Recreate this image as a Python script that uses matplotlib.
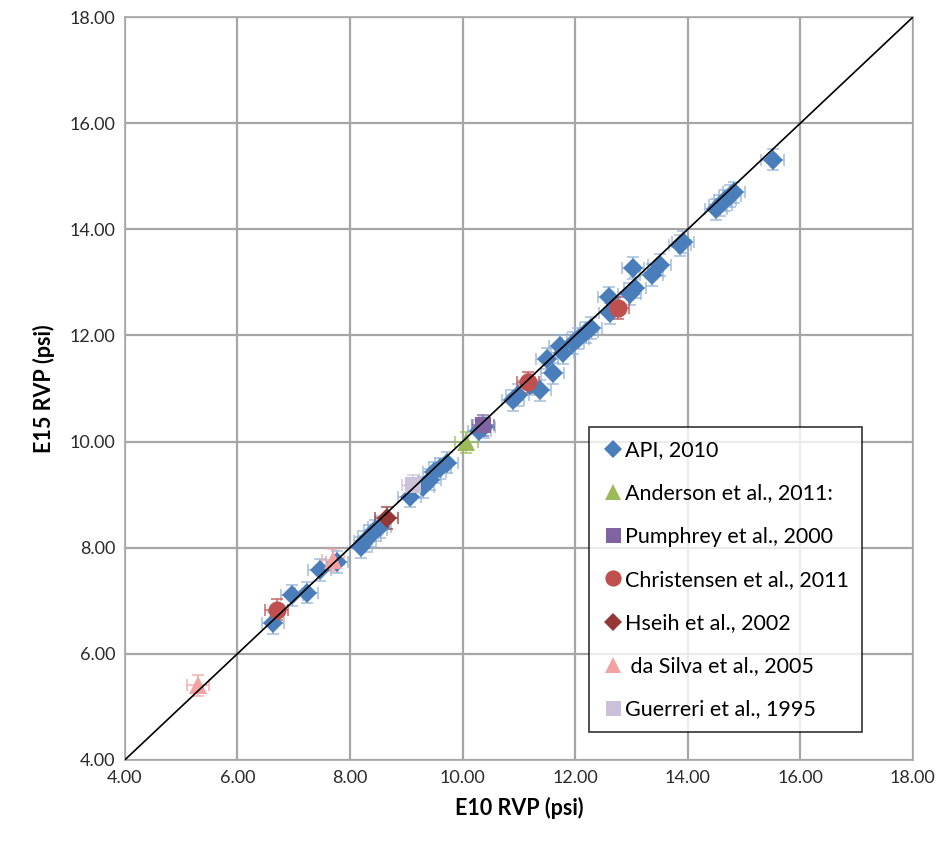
import matplotlib
matplotlib.use("Agg")
import matplotlib.pyplot as plt
from matplotlib.lines import Line2D
import numpy as np

plt.rcParams['font.family'] = ['Lato', 'DejaVu Sans']

# ---- data ----
api_x = [15.51, 14.5, 14.58, 14.66, 14.75, 14.82, 13.86, 13.92, 13.5, 13.36,
         13.03, 13.06, 12.97, 12.6, 12.62, 12.2, 12.28, 11.96, 12.05, 11.78,
         11.73, 11.6, 11.5, 11.37, 11.2, 10.9, 10.98, 10.3, 10.38, 9.72, 9.6,
         9.5, 9.42, 9.3, 9.06, 8.53, 8.45, 8.35, 8.27, 8.2, 7.77, 7.46, 7.23,
         6.97, 6.63]
api_y = [15.31, 14.38, 14.45, 14.55, 14.63, 14.7, 13.7, 13.76, 13.33, 13.14,
         13.27, 12.9, 12.78, 12.72, 12.42, 12.06, 12.14, 11.86, 11.94, 11.67,
         11.8, 11.29, 11.56, 10.97, 11.07, 10.78, 10.88, 10.2, 10.27, 9.6, 9.5,
         9.42, 9.28, 9.14, 8.96, 8.39, 8.33, 8.22, 8.12, 8.01, 7.73, 7.58, 7.15,
         7.1, 6.58]
anderson_x = [10.07]
anderson_y = [9.99]
pumphrey_x = [10.36]
pumphrey_y = [10.31]
christensen_x = [6.7, 11.16, 12.76]
christensen_y = [6.83, 11.12, 12.52]
hseih_x = [8.65]
hseih_y = [8.56]
dasilva_x = [5.3, 7.7]
dasilva_y = [5.41, 7.77]
guerreri_x = [9.12]
guerreri_y = [9.18]

err = 0.2

series = [
    ("API, 2010", api_x, api_y, 'D', '#4A7EBB', 10.5),
    ("Anderson et al., 2011:", anderson_x, anderson_y, '^', '#9BBB59', 13),
    ("Pumphrey et al., 2000", pumphrey_x, pumphrey_y, 's', '#8064A2', 12),
    ("Christensen et al., 2011", christensen_x, christensen_y, 'o', '#C0504D', 13),
    ("Hseih et al., 2002", hseih_x, hseih_y, 'D', '#953735', 10.5),
    (" da Silva et al., 2005", dasilva_x, dasilva_y, '^', '#F2A2A2', 13),
    ("Guerreri et al., 1995", guerreri_x, guerreri_y, 's', '#CCC1DA', 12),
]

fig = plt.figure(figsize=(9.45, 8.48), dpi=100)
ax = fig.add_axes([0.132, 0.1038, 0.834, 0.876])

ax.set_xlim(4, 18)
ax.set_ylim(4, 18)
ticks = np.arange(4, 18.01, 2)
ax.set_xticks(ticks)
ax.set_yticks(ticks)
ax.set_xticklabels([f"{t:.2f}" for t in ticks], fontsize=13)
ax.set_yticklabels([f"{t:.2f}" for t in ticks], fontsize=13)
ax.grid(True, color='#A6A6A6', linewidth=1.6, zorder=0)
for s in ax.spines.values():
    s.set_color('#A6A6A6')
    s.set_linewidth(1.2)
ax.tick_params(length=0, pad=7, colors='#333333', labelcolor='#2a2a2a')

ax.plot([4, 18], [4, 18], color='black', linewidth=1.2, zorder=5)

handles = []
for i, (lab, xs, ys, mk, col, ms) in enumerate(series):
    ecol = '#95B3D7' if i == 0 else col
    ax.errorbar(xs, ys, xerr=err, yerr=err, fmt='none', ecolor=ecol,
                elinewidth=1.2, capsize=4, capthick=1.2, alpha=0.8, zorder=3)
    ax.plot(xs, ys, linestyle='none', marker=mk, color=col, markersize=ms,
            markeredgewidth=0, zorder=4 + i * 0.1)
    handles.append(Line2D([], [], linestyle='none', marker=mk, color=col,
                          markersize=ms * 0.9, markeredgewidth=0, label=lab))

ax.set_xlabel("E10 RVP (psi)", fontsize=15.5, fontweight='bold', labelpad=8)
ax.set_ylabel("E15 RVP (psi)", fontsize=15.5, fontweight='bold', labelpad=10)

leg = ax.legend(handles=handles, loc='lower right', bbox_to_anchor=(0.935, 0.037),
                fontsize=15.5, frameon=True, fancybox=False, edgecolor='black',
                handletextpad=0.05, handlelength=1.0, labelspacing=1.08,
                borderpad=0.6, borderaxespad=0)
leg.get_frame().set_linewidth(1.2)
leg.set_zorder(10)

fig.savefig("out.png", dpi=100)
